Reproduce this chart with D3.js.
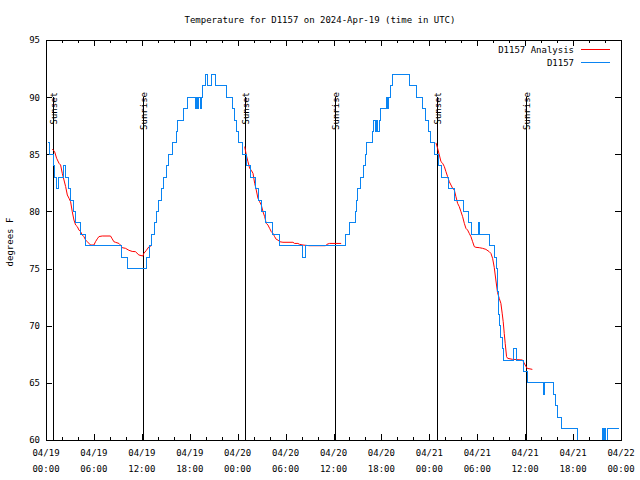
<!DOCTYPE html>
<html><head><meta charset="utf-8">
<script src="https://cdn.jsdelivr.net/npm/d3@7"></script>
<style>
body{margin:0;background:#fff}
svg{display:block}
text{font-family:"DejaVu Sans Mono","Liberation Mono",monospace;font-size:9px;fill:#000}
</style>
</head><body>
<svg id="chart" width="640" height="480"></svg>
<script>
// ---------- data ----------
const startUTC = Date.UTC(2024, 3, 19, 0, 0);
const chartTitle = "Temperature for D1157 on 2024-Apr-19 (time in UTC)";
const yAxisLabel = "degrees F";
const seriesNames = ["D1157 Analysis", "D1157"];

// observed D1157 (hours since 04/19 00:00 UTC, deg F) - step changes
const obsHours = [0.2,0.45,1.0,1.1,1.3,1.6,2.15,2.4,2.85,3.1,3.45,3.75,4.3,5.0,9.5,10.15,12.6,13.0,13.25,13.55,13.8,14.1,14.4,14.7,15.05,15.4,15.8,16.3,16.5,17.2,17.75,18.7,18.85,19.0,19.15,19.3,19.45,19.65,19.95,20.2,20.75,21.2,22.65,23.3,23.6,23.85,24.15,24.6,25.1,25.6,26.2,26.55,26.95,27.5,28.4,29.2,32.1,32.45,37.45,37.95,38.7,38.85,39.05,39.4,39.75,39.95,40.15,40.85,41.05,41.2,41.35,41.5,41.7,41.85,42.6,42.75,42.9,43.1,43.35,45.55,46.45,47.1,47.5,47.85,48.15,48.7,49.2,49.55,50.35,51.2,52.3,52.9,53.3,54.1,54.3,55.5,56.15,56.45,56.55,56.7,56.8,56.95,57.1,57.3,58.6,58.9,59.85,60.35,62.25,62.4,63.6,63.8,64.0,64.6,66.6,69.7,69.8,69.95,70.05,70.3,71.75];
const obsTemps = [86,85,84,83,82,83,84,83,82,81,80,79,78,77,76,75,76,77,78,79,80,81,82,83,84,85,86,87,88,89,90,89,90,89,90,89,90,91,92,91,92,91,90,89,88,87,86,85,84,83,82,81,80,79,78,77,76,77,78,79,80,81,82,83,84,85,86,87,88,87,88,87,88,89,90,89,90,91,92,91,90,89,88,87,86,85,84,83,82,81,80,79,78,79,78,77,76,75,73,71,70,69,68,67,68,67,66,65,64,65,64,63,62,61,59,61,59,61,59,61,61];

// analysis (null = gap)
const anaHours = [0.79,1.08,1.33,1.63,1.83,2.04,2.25,2.46,2.67,2.88,3.08,3.29,3.5,3.71,3.92,4.13,4.33,4.54,4.75,4.96,5.17,5.58,6.0,6.2,6.42,6.63,7.04,8.08,8.29,8.5,8.7,9.13,9.33,9.54,9.96,10.38,10.79,11.2,11.63,12.13,12.25,12.54,12.88,13.2,
  null,
  24.88,25.08,25.29,25.5,25.71,25.92,26.13,26.33,26.54,26.75,26.96,27.17,27.38,27.58,27.79,28.0,28.21,28.42,28.63,28.83,29.04,29.25,29.67,30.92,31.13,31.54,31.75,32.17,33.0,35.0,35.17,35.5,36.96,
  null,
  48.83,49.04,49.25,49.46,49.67,49.88,50.08,50.29,50.5,50.71,50.92,51.13,51.33,51.54,51.75,51.96,52.17,52.38,52.58,52.79,53.0,53.21,53.42,53.63,53.83,54.25,54.67,55.08,55.5,55.71,55.92,56.13,56.33,56.54,56.75,56.96,57.12,57.25,57.38,57.5,57.67,57.8,58.4,59.67,60.0,60.25,60.9];
const anaTemps = [85.46,85.23,84.65,84.21,84.06,83.33,82.75,82.17,81.44,81.15,80.85,79.98,79.25,78.81,78.67,78.37,78.23,77.94,77.79,77.5,77.35,77.06,77.06,77.35,77.6,77.8,77.85,77.85,77.6,77.35,77.3,77.2,77.06,76.83,76.77,76.6,76.5,76.48,76.19,76.1,76.33,76.57,76.9,77.0,
  null,
  85.67,84.94,84.35,83.77,83.6,83.33,82.46,81.87,81.15,80.85,80.56,79.98,79.54,78.96,78.81,78.52,78.23,78.08,77.79,77.56,77.5,77.35,77.3,77.3,77.2,77.2,77.12,77.06,77.0,77.0,77.12,77.2,77.2,
  null,
  86.0,85.52,84.94,84.35,84.21,83.92,83.48,83.04,82.6,82.31,82.02,81.87,81.29,80.71,80.42,79.98,79.54,78.96,78.52,78.37,78.08,77.79,77.35,76.92,76.86,76.83,76.77,76.68,76.48,76.33,75.9,75.1,74.0,72.9,72.4,71.96,71.1,70.35,69.33,68.46,67.3,67.15,67.06,67.0,66.56,66.27,66.18];

// sun events
const eventHours = [0.92, 12.17, 24.9, 36.17, 48.93, 60.06];
const eventLabels = ["Sunset", "Sunrise", "Sunset", "Sunrise", "Sunset", "Sunrise"];

// axes
const yTicks = [60, 65, 70, 75, 80, 85, 90, 95];
const xMajorHours = [0, 6, 12, 18, 24, 30, 36, 42, 48, 54, 60, 66, 72];
const xMinorHours = d3.range(0, 73, 2);

// ---------- drawing ----------
const W = 640, H = 480;
const L = 46, R = 621, T = 40, B = 440;
const toDate = h => new Date(startUTC + h * 3600e3);
const svg = d3.select("#chart");

const x = d3.scaleUtc().domain([toDate(0), toDate(72)]).range([L, R]);
const y = d3.scaleLinear().domain([60, 95]).range([B, T]);

svg.append("defs").append("clipPath").attr("id", "plotclip")
  .append("rect").attr("x", L).attr("y", T).attr("width", R - L).attr("height", B - T);

// title
svg.append("text").attr("x", 320).attr("y", 23).attr("text-anchor", "middle").text(chartTitle);

// y label
svg.append("text").attr("transform", "translate(13,242) rotate(-90)")
  .attr("text-anchor", "middle").text(yAxisLabel);

// axes (ticks inward)
function styleAxis(g) {
  g.select(".domain").remove();
  g.selectAll("line").attr("stroke", "#000").attr("shape-rendering", "crispEdges");
}
svg.append("g").attr("transform", `translate(0,${B})`)
  .call(d3.axisBottom(x).tickValues(xMinorHours.map(toDate)).tickSize(-3).tickFormat(""))
  .call(styleAxis);
svg.append("g").attr("transform", `translate(0,${B})`)
  .call(d3.axisBottom(x).tickValues(xMajorHours.map(toDate)).tickSize(-6).tickFormat(""))
  .call(styleAxis);
svg.append("g").attr("transform", `translate(0,${T})`)
  .call(d3.axisTop(x).tickValues(xMinorHours.map(toDate)).tickSize(-3).tickFormat(""))
  .call(styleAxis);
svg.append("g").attr("transform", `translate(0,${T})`)
  .call(d3.axisTop(x).tickValues(xMajorHours.map(toDate)).tickSize(-6).tickFormat(""))
  .call(styleAxis);
svg.append("g").attr("transform", `translate(${L},0)`)
  .call(d3.axisLeft(y).tickValues(yTicks).tickSize(-6).tickPadding(6))
  .call(styleAxis)
  .call(g => g.selectAll("text").attr("font-size", null).attr("font-family", null).attr("fill", "#000"));
svg.append("g").attr("transform", `translate(${R},0)`)
  .call(d3.axisRight(y).tickValues(yTicks).tickSize(-6).tickFormat(""))
  .call(styleAxis);

// x tick labels (two lines)
const fmtDay = d3.utcFormat("%m/%d"), fmtTime = d3.utcFormat("%H:%M");
const xl = svg.append("g").selectAll("text").data(xMajorHours).join("text")
  .attr("text-anchor", "middle")
  .attr("x", h => x(toDate(h)));
xl.append("tspan").attr("x", h => x(toDate(h))).attr("y", 456).text(h => fmtDay(toDate(h)));
xl.append("tspan").attr("x", h => x(toDate(h))).attr("y", 472).text(h => fmtTime(toDate(h)));

// border
svg.append("rect").attr("x", L).attr("y", T).attr("width", R - L).attr("height", B - T)
  .attr("fill", "none").attr("stroke", "#000").attr("shape-rendering", "crispEdges");

// sun event lines
const ev = svg.append("g");
ev.selectAll("line").data(eventHours).join("line")
  .attr("x1", h => Math.round(x(toDate(h))) + 0.5).attr("x2", h => Math.round(x(toDate(h))) + 0.5)
  .attr("y1", 97).attr("y2", B).attr("stroke", "#000");
ev.selectAll("text").data(eventHours).join("text")
  .attr("transform", h => `translate(${Math.round(x(toDate(h))) + 4},92) rotate(-90)`)
  .attr("text-anchor", "end")
  .text((h, i) => eventLabels[i]);

// series
const plot = svg.append("g").attr("clip-path", "url(#plotclip)");
const anaData = anaHours.map((h, i) => ({h, t: anaTemps[i]}));
const obsData = obsHours.map((h, i) => ({h, t: obsTemps[i]}));
const redColor = "#ff0000", blueColor = "#0a84f2";

plot.append("path").datum(anaData)
  .attr("fill", "none").attr("stroke", redColor).attr("stroke-width", 1)
  .attr("d", d3.line().defined(d => d.h != null && d.t != null)
    .x(d => x(toDate(d.h))).y(d => y(d.t)));

plot.append("path").datum(obsData)
  .attr("fill", "none").attr("stroke", blueColor).attr("stroke-width", 1)
  .attr("shape-rendering", "crispEdges")
  .attr("d", d3.line().curve(d3.curveStepAfter)
    .x(d => x(toDate(d.h))).y(d => y(d.t)));

// legend
const legend = svg.append("g");
const legColors = [redColor, blueColor];
seriesNames.forEach((name, i) => {
  const ly = 50 + i * 13;
  legend.append("text").attr("x", 574).attr("y", ly + 3).attr("text-anchor", "end").text(name);
  legend.append("line").attr("x1", 581).attr("x2", 610).attr("y1", ly - 0.5).attr("y2", ly - 0.5)
    .attr("stroke", legColors[i]).attr("shape-rendering", "crispEdges");
});
</script>
</body></html>
